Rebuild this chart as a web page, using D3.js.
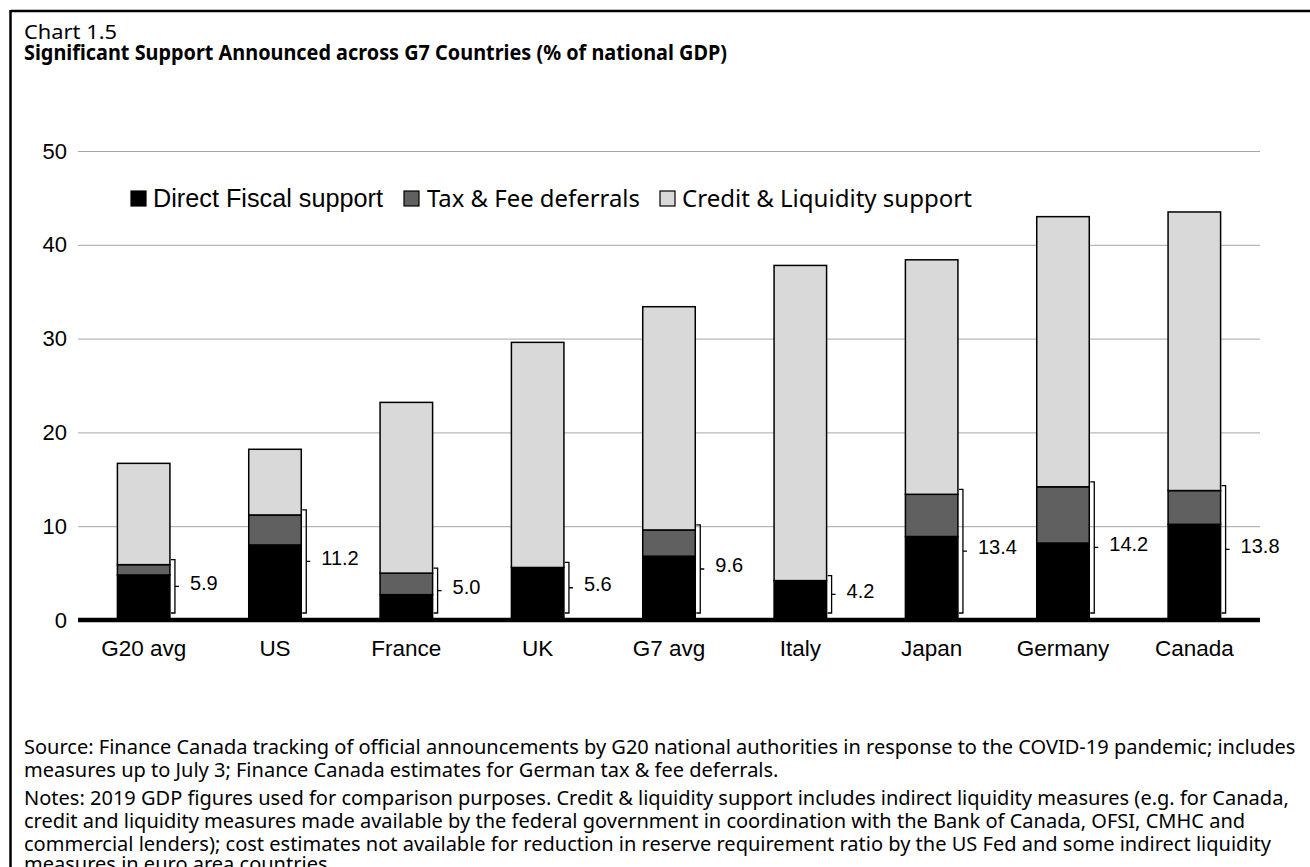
<!DOCTYPE html>
<html>
<head>
<meta charset="utf-8">
<script src="https://cdn.jsdelivr.net/npm/d3@7"></script>
<style>
  html, body { margin: 0; padding: 0; background: #fff; }
  svg { display: block; }
</style>
</head>
<body>
<svg id="chart" width="1310" height="867"></svg>
<script>
const categories = ["G20 avg", "US", "France", "UK", "G7 avg", "Italy", "Japan", "Germany", "Canada"];
const directFiscal = [4.8, 8.0, 2.7, 5.6, 6.8, 4.2, 8.9, 8.2, 10.2];
const taxFee = [1.1, 3.2, 2.3, 0.0, 2.8, 0.0, 4.5, 6.0, 3.6];
const creditLiquidity = [10.8, 7.0, 18.2, 24.0, 23.8, 33.6, 25.0, 28.8, 29.7];
const bracketLabels = ["5.9", "11.2", "5.0", "5.6", "9.6", "4.2", "13.4", "14.2", "13.8"];
const seriesNames = ["Direct Fiscal support", "Tax & Fee deferrals", "Credit & Liquidity support"];
const yTicks = [0, 10, 20, 30, 40, 50];
const chartNumber = "Chart 1.5";
const chartTitle = "Significant Support Announced across G7 Countries (% of national GDP)";
const footLines = [
  "Source: Finance Canada tracking of official announcements by G20 national authorities in response to the COVID-19 pandemic; includes",
  "measures up to July 3; Finance Canada estimates for German tax & fee deferrals.",
  "Notes: 2019 GDP figures used for comparison purposes. Credit & liquidity support includes indirect liquidity measures (e.g. for Canada,",
  "credit and liquidity measures made available by the federal government in coordination with the Bank of Canada, OFSI, CMHC and",
  "commercial lenders); cost estimates not available for reduction in reserve requirement ratio by the US Fed and some indirect liquidity",
  "measures in euro area countries."
];

const colors = ["#000000", "#606060", "#d9d9d9"];
const arial = "'Liberation Sans', Arial, sans-serif";
const segoe = "'Noto Sans', 'Open Sans', sans-serif";

const svg = d3.select("#chart");

// fit a text element's font size so that its width equals a target width
function fitWidth(sel, target) {
  const w = sel.node().getComputedTextLength();
  const fs = parseFloat(sel.attr("font-size"));
  const nfs = fs * target / w;
  sel.attr("font-size", nfs.toFixed(2));
  return nfs;
}
// squeeze glyphs horizontally to a target width while keeping the font size
function squeezeTo(sel, target) {
  sel.attr("textLength", target).attr("lengthAdjust", "spacingAndGlyphs");
}

// frame (top + left rule)
svg.append("line").attr("x1", 10.5).attr("x2", 1310).attr("y1", 11).attr("y2", 11)
  .attr("stroke", "#000").attr("stroke-width", 2.5);
svg.append("line").attr("x1", 10.5).attr("x2", 10.5).attr("y1", 10).attr("y2", 867)
  .attr("stroke", "#000").attr("stroke-width", 2.5);

// titles
const t1 = svg.append("text").attr("x", 24).attr("y", 39).attr("font-family", segoe).attr("font-size", 20)
  .text(chartNumber);
squeezeTo(t1, 93);
const t2 = svg.append("text").attr("x", 24).attr("y", 60).attr("font-family", segoe).attr("font-size", 20.5)
  .attr("font-weight", "bold").text(chartTitle);
squeezeTo(t2, 703);

const x = d3.scaleBand().domain(categories).range([78, 1260]).paddingInner(0.6).paddingOuter(0.3);
const y = d3.scaleLinear().domain([0, 50]).range([620, 151]);

// gridlines
svg.append("g").selectAll("line").data(yTicks.filter(d => d > 0)).join("line")
  .attr("x1", 78).attr("x2", 1260).attr("y1", d => y(d) + 0.5).attr("y2", d => y(d) + 0.5)
  .attr("stroke", "#a6a6a6").attr("stroke-width", 1);

// y axis labels
const yAxis = svg.append("g").attr("transform", "translate(67,0)")
  .call(d3.axisLeft(y).tickValues(yTicks).tickSize(0).tickPadding(0).tickFormat(d3.format("d")));
yAxis.select(".domain").remove();
yAxis.selectAll("text").attr("font-family", arial).attr("font-size", 22).attr("fill", "#000");

// stacked bars
const rows = categories.map((c, i) => ({ cat: c, d: directFiscal[i], t: taxFee[i], c2: creditLiquidity[i] }));
const stack = d3.stack().keys(["d", "t", "c2"]);
const series = stack(rows);
const barG = svg.append("g");
series.forEach((s, si) => {
  barG.append("g").selectAll("rect").data(s.filter(p => p[1] - p[0] > 0)).join("rect")
    .attr("x", p => x(p.data.cat))
    .attr("width", x.bandwidth())
    .attr("y", p => y(p[1]))
    .attr("height", p => y(p[0]) - y(p[1]))
    .attr("fill", colors[si])
    .attr("stroke", "#000").attr("stroke-width", 1.5);
});

// zero axis
svg.append("line").attr("x1", 78).attr("x2", 1260).attr("y1", y(0)).attr("y2", y(0))
  .attr("stroke", "#000").attr("stroke-width", 4.5);

// brackets + labels
const bG = svg.append("g");
rows.forEach((r, i) => {
  const x0 = x(r.cat) + x.bandwidth() + 1;
  const xb = x0 + 4;
  const top = y(r.d + r.t) - 5;
  const bot = y(0) - 7;
  const mid = (top + bot) / 2;
  bG.append("path")
    .attr("d", `M${x0},${top}H${xb}V${bot}H${x0}M${xb},${mid}H${xb + 4}`)
    .attr("fill", "none").attr("stroke", "#000").attr("stroke-width", 1.3);
  bG.append("text").attr("x", xb + 15).attr("y", mid - 2)
    .attr("dominant-baseline", "middle")
    .attr("font-family", arial).attr("font-size", 20).text(bracketLabels[i]);
});

// category labels
const xAxis = svg.append("g").attr("transform", `translate(0,${y(0)})`)
  .call(d3.axisBottom(x).tickSize(0).tickPadding(20));
xAxis.select(".domain").remove();
xAxis.selectAll("text").attr("font-family", arial).attr("font-size", 22.5).attr("fill", "#000");

// legend
const legendItems = [
  { name: seriesNames[0], color: colors[0], font: arial, size: 23, sx: 131, tx: 153, w: 230 },
  { name: seriesNames[1], color: colors[1], font: segoe, size: 21, sx: 404, tx: 427, w: 213 },
  { name: seriesNames[2], color: colors[2], font: segoe, size: 21, sx: 660, tx: 682, w: 290 }
];
const lg = svg.append("g");
legendItems.forEach(it => {
  lg.append("rect").attr("x", it.sx).attr("y", 191).attr("width", 15).attr("height", 15)
    .attr("fill", it.color).attr("stroke", "#000").attr("stroke-width", 1.2);
  const t = lg.append("text").attr("x", it.tx).attr("y", 207).attr("font-family", it.font)
    .attr("font-size", it.size).text(it.name);
  fitWidth(t, it.w);
});

// footnotes
const footY = [754, 777, 805, 828, 851, 871];
const fts = footLines.map((t, i) => svg.append("text").attr("x", 24).attr("y", footY[i])
  .attr("font-family", segoe).attr("font-size", 16.5).text(t));
const ffs = fitWidth(fts[0], 1272);
fts.forEach(t => t.attr("font-size", ffs.toFixed(2)));
</script>
</body>
</html>
